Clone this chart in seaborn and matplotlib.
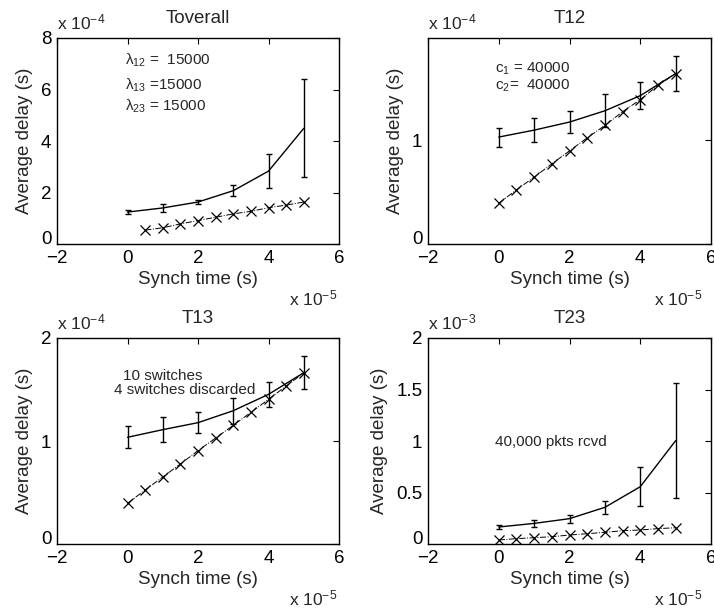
import matplotlib
matplotlib.use("Agg")
import matplotlib.pyplot as plt
import matplotlib.transforms as mtransforms
import seaborn as sns
import numpy as np

# ---- data (x in units of 1e-5 s, y in units shown by each panel's exponent) ----
x_main = [0, 1, 2, 3, 4, 5]
x_cross = [0, 0.5, 1, 1.5, 2, 2.5, 3, 3.5, 4, 4.5, 5]

titles = ["Toverall", "T12", "T13", "T23"]
y_exponents = [-4, -4, -4, -3]

tover_mean = [1.24, 1.40, 1.63, 2.07, 2.83, 4.49]
tover_err = [0.09, 0.17, 0.09, 0.21, 0.65, 1.90]
tover_cross_x = [0.5, 1, 1.5, 2, 2.5, 3, 3.5, 4, 4.5, 5]
tover_cross = [0.54, 0.63, 0.78, 0.91, 1.04, 1.17, 1.27, 1.41, 1.51, 1.63]

t12_mean = [1.033, 1.10, 1.178, 1.287, 1.433, 1.646]
t12_err = [0.092, 0.118, 0.105, 0.16, 0.13, 0.17]
t12_cross = [0.394, 0.523, 0.646, 0.774, 0.90, 1.026, 1.145, 1.278, 1.394, 1.532, 1.646]

t13_mean = [1.036, 1.11, 1.178, 1.294, 1.453, 1.663]
t13_err = [0.105, 0.12, 0.105, 0.125, 0.12, 0.16]
t13_cross = [0.395, 0.524, 0.65, 0.777, 0.906, 1.029, 1.152, 1.278, 1.404, 1.534, 1.66]

t23_mean = [0.165, 0.20, 0.246, 0.356, 0.556, 1.003]
t23_err = [0.02, 0.036, 0.04, 0.066, 0.19, 0.56]
t23_cross = [0.039, 0.052, 0.061, 0.071, 0.087, 0.10, 0.113, 0.129, 0.136, 0.149, 0.158]

x_ticks = [-2, 0, 2, 4, 6]
x_ticklabels = ["\u22122", "0", "2", "4", "6"]
y_ticks = [[0, 2, 4, 6, 8], [0, 1], [0, 1, 2], [0, 0.5, 1, 1.5, 2]]
y_ticklabels = [["0", "2", "4", "6", "8"], ["0", "1"], ["0", "1", "2"], ["0", "0.5", "1", "1.5", "2"]]
y_lims = [(0, 8), (0, 1.99), (0, 2), (0, 2)]

sns.set_style("white")
plt.rcParams["font.family"] = ["Liberation Sans", "DejaVu Sans"]
plt.rcParams["mathtext.fontset"] = "custom"
plt.rcParams["mathtext.rm"] = "Liberation Sans"
plt.rcParams["mathtext.it"] = "Liberation Sans:italic"
plt.rcParams["mathtext.bf"] = "Liberation Sans:bold"

FS = 13.5
fig = plt.figure(figsize=(7.14, 6.10), dpi=100)

W, H = 714, 610
def frac(l, t, r, b):
    return [l / W, 1 - b / H, (r - l) / W, (b - t) / H]

axes = [
    fig.add_axes(frac(57, 38, 339, 244)),
    fig.add_axes(frac(428, 38, 711, 244)),
    fig.add_axes(frac(57, 338, 339, 544)),
    fig.add_axes(frac(428, 338, 711, 544)),
]

panels = [
    (tover_mean, tover_err, tover_cross_x, tover_cross),
    (t12_mean, t12_err, x_cross, t12_cross),
    (t13_mean, t13_err, x_cross, t13_cross),
    (t23_mean, t23_err, x_cross, t23_cross),
]

exp5_x = [0.993, 0.968, 0.993, 0.968]

for i, ax in enumerate(axes):
    mean, err, cx, cy = panels[i]
    sns.lineplot(x=x_main, y=mean, ax=ax, color="black", linewidth=1.0)
    ax.errorbar(x_main, mean, yerr=err, fmt="none", ecolor="black",
                elinewidth=1.0, capsize=2.5, capthick=1.0)
    sns.lineplot(x=cx, y=cy, ax=ax, color="black", linewidth=0.7,
                 linestyle="-.", marker="x", markersize=7,
                 markeredgewidth=0.9, markeredgecolor="black")
    ax.set_xlim(-2, 6)
    ax.set_ylim(*y_lims[i])
    ax.set_xticks(x_ticks)
    ax.set_xticklabels(x_ticklabels, fontsize=FS)
    ax.set_yticks(y_ticks[i])
    ax.set_yticklabels(y_ticklabels[i], fontsize=FS)
    ax.tick_params(direction="in", top=True, right=True, length=4, width=0.8,
                   pad=4, colors="black")
    # MATLAB-style: the bottom "0" label sits slightly above the axis corner
    lbl0 = ax.get_yticklabels()[0]
    lbl0.set_transform(lbl0.get_transform() +
                       mtransforms.ScaledTranslation(0, 5 / 72, fig.dpi_scale_trans))
    for s in ax.spines.values():
        s.set_visible(True)
        s.set_color("black")
        s.set_linewidth(1.0)
    ax.set_title(titles[i], fontsize=FS, pad=11)
    ax.set_xlabel("Synch time (s)", fontsize=FS, labelpad=3)
    ax.set_ylabel("Average delay (s)", fontsize=FS, labelpad=6)
    ax.text(0, 1.044, r"x 10$^{%d}$" % y_exponents[i], transform=ax.transAxes,
            ha="left", va="baseline", fontsize=FS - 1)
    ax.text(exp5_x[i], -0.30, r"x 10$^{-5}$", transform=ax.transAxes,
            ha="right", va="baseline", fontsize=FS - 1)

# annotations
a0 = axes[0]
a0.text(-0.08, 7.12, "\u03bb$_{12}$ =  15000", fontsize=11, va="center", ha="left")
a0.text(-0.08, 6.17, "\u03bb$_{13}$ =15000", fontsize=11, va="center", ha="left")
a0.text(-0.08, 5.33, "\u03bb$_{23}$ = 15000", fontsize=11, va="center", ha="left")

a1 = axes[1]
a1.text(-0.12, 1.69, "c$_1$ = 40000", fontsize=11, va="center", ha="left")
a1.text(-0.12, 1.53, "c$_2$=  40000", fontsize=11, va="center", ha="left")

a2 = axes[2]
a2.text(-0.125, 1.63, "10 switches", fontsize=11, va="center", ha="left")
a2.text(-0.38, 1.50, "4 switches discarded", fontsize=11, va="center", ha="left")

a3 = axes[3]
a3.text(-0.11, 0.993, "40,000 pkts rcvd", fontsize=11, va="center", ha="left")

fig.savefig("out.png", dpi=100)
